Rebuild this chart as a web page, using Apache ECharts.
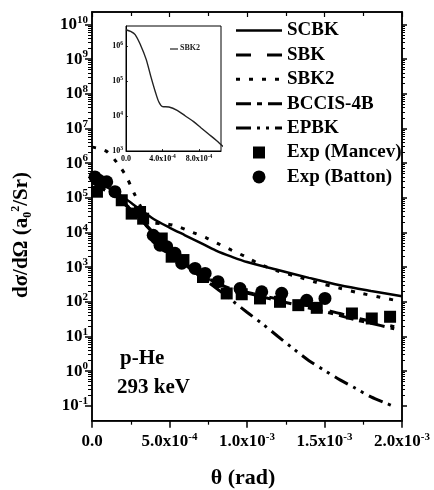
<!DOCTYPE html>
<html>
<head>
<meta charset="utf-8">
<script src="https://cdn.jsdelivr.net/npm/echarts@6/dist/echarts.min.js"></script>
<style>
  html, body { margin: 0; padding: 0; background: #fff; }
  #chart { width: 434px; height: 490px; }
</style>
</head>
<body>
<div id="chart"></div>
<script>
// p-He electron capture at 293 keV: differential cross section dσ/dΩ (a0²/Sr) vs θ (rad)
const FONT = 'Liberation Serif';

// Theory curves
const scbkTheta  = [0, 1e-4, 2e-4, 3e-4, 4e-4, 5e-4, 6e-4, 7e-4, 8e-4, 9e-4, 1.0e-3, 1.2e-3, 1.4e-3, 1.6e-3, 1.8e-3, 2.0e-3];
const scbkValue  = [3.5e5, 2.0e5, 1.05e5, 5.0e4, 2.4e4, 1.38e4, 8.3e3, 5.0e3, 3.0e3, 2.0e3, 1.4e3, 830, 490, 300, 205, 145];

const sbkTheta   = [0, 1e-4, 2e-4, 3e-4, 4e-4, 5e-4, 6e-4, 7e-4, 8e-4, 9e-4, 1.0e-3, 1.1e-3, 1.2e-3, 1.3e-3, 1.4e-3, 1.5e-3, 1.6e-3, 1.7e-3, 1.8e-3, 1.95e-3];
const sbkValue   = [3.2e5, 1.65e5, 7.6e4, 2.8e4, 9.5e3, 3.3e3, 1.3e3, 630, 360, 250, 190, 150, 120, 95, 76, 59, 46, 35, 27.5, 19];

const sbk2Theta  = [0, 0.5e-4, 1.0e-4, 1.6e-4, 2.2e-4, 2.7e-4, 3.2e-4, 3.6e-4, 4.0e-4, 4.7e-4, 5.6e-4, 6.5e-4, 7.4e-4, 8.2e-4, 9.0e-4, 9.9e-4, 1.07e-3, 1.19e-3, 1.34e-3, 1.44e-3, 1.60e-3, 1.73e-3, 1.86e-3, 1.95e-3];
const sbk2Value  = [2.9e6, 2.6e6, 2.1e6, 1.05e6, 4.2e5, 1.4e5, 5.0e4, 2.5e4, 1.85e4, 1.8e4, 1.45e4, 1.0e4, 6.9e3, 4.6e3, 3.1e3, 2.0e3, 1.3e3, 790, 510, 370, 245, 178, 135, 112];

const bccisTheta = [0, 1e-4, 2e-4, 3e-4, 4e-4, 5e-4, 6e-4, 7e-4, 8e-4, 9e-4, 1.0e-3, 1.1e-3, 1.2e-3, 1.3e-3, 1.4e-3, 1.5e-3, 1.6e-3, 1.7e-3, 1.8e-3, 1.95e-3];
const bccisValue = [2.8e5, 1.5e5, 7.1e4, 2.8e4, 8.9e3, 3.2e3, 1.26e3, 600, 350, 235, 178, 138, 107, 85, 66, 52, 40, 30, 24, 16.6];

const epbkTheta  = [0, 1e-4, 2e-4, 3e-4, 4e-4, 5e-4, 6e-4, 7e-4, 8e-4, 9e-4, 1.0e-3, 1.1e-3, 1.2e-3, 1.3e-3, 1.4e-3, 1.5e-3, 1.6e-3, 1.7e-3, 1.8e-3, 1.9e-3, 1.95e-3];
const epbkValue  = [2.8e5, 1.5e5, 7.1e4, 2.8e4, 8.9e3, 3.2e3, 1.2e3, 525, 250, 112, 50, 23, 10, 4.4, 2.0, 1.05, 0.56, 0.32, 0.18, 0.117, 0.095];

// Measurements
const mancevTheta = [3.2e-5, 1.92e-4, 2.56e-4, 3.1e-4, 3.3e-4, 4.5e-4, 5.14e-4, 5.9e-4, 7.16e-4, 8.69e-4, 9.66e-4, 1.084e-3, 1.213e-3, 1.331e-3, 1.45e-3, 1.677e-3, 1.805e-3, 1.923e-3];
const mancevValue = [1.5e5, 8.5e4, 3.5e4, 3.9e4, 2.5e4, 6.7e3, 2.0e3, 1.6e3, 520, 174, 165, 125, 100, 80, 67, 46, 33, 37];

const battonTheta = [1.9e-5, 4.5e-5, 9.5e-5, 1.48e-4, 3.95e-4, 4.17e-4, 4.39e-4, 4.82e-4, 5.35e-4, 5.79e-4, 6.65e-4, 7.3e-4, 8.13e-4, 9.55e-4, 1.095e-3, 1.224e-3, 1.385e-3, 1.503e-3];
const battonValue = [4.0e5, 3.2e5, 2.9e5, 1.5e5, 8.3e3, 6.7e3, 4.3e3, 3.9e3, 2.5e3, 1.3e3, 920, 660, 380, 240, 195, 175, 110, 125];

// Legend entries and their line dash patterns
const legendNames = ['SCBK', 'SBK', 'SBK2', 'BCCIS-4B', 'EPBK', 'Exp (Mancev)', 'Exp (Batton)'];
const legendDash = [null, [15, 16], [4, 9], [15, 6, 5, 6], [15, 6, 3, 6, 3, 6], null, null];
const legendMarker = [null, null, null, null, null, 'rect', 'circle'];

// Axis ranges and ticks
const xTickStep = 5e-4;
const xRange = [0, 2e-3];
const yRange = [0.03715, 2.29e10];      // visible extent of the main plot
const yDecades = [0.1, 1e10];           // labelled decades 10^-1 … 10^10
const insetXTickStep = 4e-4;
const insetXRange = [0, 1.04e-3];
const insetYRange = [1e3, 3.7e6];

const zip = (xs, ys) => xs.map((x, i) => [x, ys[i]]);

function powLabel(v) {
  const e = Math.log10(v);
  const r = Math.round(e);
  if (Math.abs(e - r) > 1e-6) return '';
  return '{b|10}{s|' + r + '}';
}
function sciLabel(v) {
  if (Math.abs(v) < 1e-12) return '{b|0.0}';
  const e = Math.floor(Math.log10(v) + 1e-9);
  const m = v / Math.pow(10, e);
  return '{b|' + m.toFixed(1) + 'x10}{s|' + e + '}';
}

const bigRich = {
  b: { fontFamily: FONT, fontWeight: 'bold', fontSize: 17, color: '#000', lineHeight: 20 },
  s: { fontFamily: FONT, fontWeight: 'bold', fontSize: 11, color: '#000', verticalAlign: 'top', lineHeight: 11 }
};
const smallRich = {
  b: { fontFamily: FONT, fontWeight: 'bold', fontSize: 8, color: '#000', lineHeight: 10 },
  s: { fontFamily: FONT, fontWeight: 'bold', fontSize: 5.5, color: '#000', verticalAlign: 'top', lineHeight: 6 }
};

const black = '#000';
const axisLine = { show: true, onZero: false, lineStyle: { color: black, width: 1.5 } };

// Main plot box
const plot = { left: 92, top: 12, width: 310, height: 408.7 };
// Sub-box spanning whole decades, so the log tick axes land on powers of ten
const pxPerDecade = plot.height / (Math.log10(yRange[1]) - Math.log10(yRange[0]));
const decadeBox = {
  left: plot.left, width: plot.width,
  top: plot.top + (Math.log10(yRange[1]) - Math.log10(yDecades[1])) * pxPerDecade,
  height: (Math.log10(yDecades[1]) - Math.log10(yDecades[0])) * pxPerDecade
};

const lineSeries = (name, xs, ys, type, width) => ({
  name, type: 'line', xAxisIndex: 0, yAxisIndex: 0,
  data: zip(xs, ys), showSymbol: false, symbol: 'none', smooth: 0.3,
  lineStyle: { color: black, width, type, cap: 'butt' },
  itemStyle: { color: black }, z: 3
});

// Legend drawn as graphic elements: sample line / marker + label per row
const legendX = 236, legendTop = 30.5, legendStep = 24.4;
const legendGraphics = [];
legendNames.forEach((name, i) => {
  const y = legendTop + i * legendStep;
  if (legendMarker[i] === 'rect') {
    legendGraphics.push({ type: 'rect', z: 100, shape: { x: 253, y: y - 6, width: 12, height: 12 }, style: { fill: black } });
  } else if (legendMarker[i] === 'circle') {
    legendGraphics.push({ type: 'circle', z: 100, shape: { cx: 259, cy: y, r: 6.5 }, style: { fill: black } });
  } else {
    legendGraphics.push({
      type: 'line', z: 100, shape: { x1: legendX, y1: y, x2: legendX + 46, y2: y },
      style: { stroke: black, lineWidth: i === 0 ? 2.5 : 3, lineDash: legendDash[i] || null }
    });
  }
  legendGraphics.push({
    type: 'text', z: 100, x: legendX + 51, y: y,
    style: { text: name, font: 'bold 19px "Liberation Serif"', fill: black, align: 'left', verticalAlign: 'middle' }
  });
});

const chart = echarts.init(document.getElementById('chart'), null, { renderer: 'canvas' });

const mainY = (position) => ({
  gridIndex: 0, type: 'log', logBase: 10, position, min: yRange[0], max: yRange[1],
  axisLine, splitLine: { show: false }, axisTick: { show: false }, axisLabel: { show: false }
});
const decadeY = (position, tickLen, minorLen, showLabel) => ({
  gridIndex: 2, type: 'log', logBase: 10, position, min: yDecades[0], max: yDecades[1], interval: 1,
  axisLine: { show: false }, splitLine: { show: false },
  axisTick: { show: true, inside: false, length: tickLen, interval: 0, lineStyle: { color: black, width: 1.5 } },
  minorTick: { show: true, splitNumber: 9, length: minorLen, lineStyle: { color: black, width: 1 } },
  axisLabel: showLabel
    ? { margin: 4, interval: 0, hideOverlap: false, formatter: powLabel, rich: bigRich }
    : { show: false }
});

chart.setOption({
  animation: false,
  backgroundColor: '#fff',
  grid: [
    Object.assign({ show: true, borderColor: black, borderWidth: 1.5, backgroundColor: 'transparent' }, plot),
    { left: 126, top: 26, width: 95, height: 125, show: true, borderColor: black, borderWidth: 1, backgroundColor: '#fff', z: 5 },
    Object.assign({ show: false }, decadeBox)
  ],
  xAxis: [
    {
      gridIndex: 0, type: 'value', position: 'bottom', min: xRange[0], max: xRange[1], interval: xTickStep,
      axisLine, splitLine: { show: false },
      axisTick: { show: true, inside: false, length: 7, lineStyle: { color: black, width: 1.5 } },
      minorTick: { show: true, splitNumber: 2, length: 4, lineStyle: { color: black, width: 1.2 } },
      axisLabel: { margin: 11, formatter: sciLabel, rich: bigRich }
    },
    {
      gridIndex: 0, type: 'value', position: 'top', min: xRange[0], max: xRange[1], interval: xTickStep,
      axisLine, splitLine: { show: false },
      axisTick: { show: true, inside: true, length: 5, lineStyle: { color: black, width: 1.2 } },
      minorTick: { show: true, splitNumber: 2, length: 4, lineStyle: { color: black, width: 1.2 } },
      axisLabel: { show: false }
    },
    {
      gridIndex: 1, type: 'value', position: 'bottom', min: insetXRange[0], max: insetXRange[1], interval: insetXTickStep,
      axisLine: { show: true, onZero: false, lineStyle: { color: black, width: 1 } }, splitLine: { show: false },
      axisTick: { show: true, inside: true, length: 2, lineStyle: { color: black, width: 0.8 } },
      axisLabel: { margin: 3, formatter: sciLabel, rich: smallRich, showMaxLabel: false }, z: 6
    },
    { gridIndex: 2, type: 'value', min: 0, max: 1, show: false }
  ],
  yAxis: [
    mainY('left'),
    mainY('right'),
    {
      gridIndex: 1, type: 'log', logBase: 10, position: 'left', min: insetYRange[0], max: insetYRange[1], interval: 1,
      axisLine: { show: true, onZero: false, lineStyle: { color: black, width: 1 } }, splitLine: { show: false },
      axisTick: { show: true, inside: true, length: 2, interval: 0, lineStyle: { color: black, width: 0.8 } },
      axisLabel: { margin: 3, interval: 0, formatter: powLabel, rich: smallRich, showMaxLabel: false }, z: 6
    },
    decadeY('left', 7, 4, true),
    decadeY('right', 5, 3, false)
  ],
  series: [
    lineSeries('SCBK', scbkTheta, scbkValue, 'solid', 2.5),
    lineSeries('SBK', sbkTheta, sbkValue, legendDash[1], 3),
    lineSeries('SBK2', sbk2Theta, sbk2Value, legendDash[2], 3),
    lineSeries('BCCIS-4B', bccisTheta, bccisValue, legendDash[3], 3),
    lineSeries('EPBK', epbkTheta, epbkValue, legendDash[4], 3),
    {
      name: 'Exp (Mancev)', type: 'scatter', xAxisIndex: 0, yAxisIndex: 0,
      data: zip(mancevTheta, mancevValue), symbol: 'rect', symbolSize: 12,
      itemStyle: { color: black, opacity: 1 }, z: 2
    },
    {
      name: 'Exp (Batton)', type: 'scatter', xAxisIndex: 0, yAxisIndex: 0,
      data: zip(battonTheta, battonValue), symbol: 'circle', symbolSize: 13,
      itemStyle: { color: black, opacity: 1 }, z: 2
    },
    {
      name: 'SBK2 (inset)', type: 'line', xAxisIndex: 2, yAxisIndex: 2,
      data: zip(sbk2Theta, sbk2Value), showSymbol: false, symbol: 'none', smooth: 0.3, clip: true,
      lineStyle: { color: '#222', width: 1.4 }, z: 7
    }
  ],
  graphic: legendGraphics.concat([
    { type: 'line', z: 100, shape: { x1: 170, y1: 49, x2: 178, y2: 49 }, style: { stroke: '#222', lineWidth: 1.2 } },
    { type: 'text', z: 100, left: 180, top: 44, style: { text: 'SBK2', font: 'bold 8px "Liberation Serif"', fill: '#222' } },
    { type: 'text', z: 100, left: 120, top: 348, style: { text: 'p-He', font: 'bold 21px "Liberation Serif"', fill: black } },
    { type: 'text', z: 100, left: 117, top: 377, style: { text: '293 keV', font: 'bold 21px "Liberation Serif"', fill: black } },
    { type: 'text', z: 100, x: 243, y: 478, style: { text: 'θ (rad)', font: 'bold 22px "Liberation Serif"', fill: black, align: 'center', verticalAlign: 'middle' } },
    {
      type: 'text', z: 100, x: 22, y: 235, rotation: Math.PI / 2,
      style: {
        text: '{t|dσ/dΩ (a}{sub|0}{sup|2}{t|/Sr)}', align: 'center', verticalAlign: 'middle',
        rich: {
          t: { font: 'bold 21px "Liberation Serif"', fill: black, lineHeight: 24 },
          sub: { font: 'bold 12px "Liberation Serif"', fill: black, verticalAlign: 'bottom', lineHeight: 12 },
          sup: { font: 'bold 12px "Liberation Serif"', fill: black, verticalAlign: 'top', lineHeight: 12 }
        }
      }
    }
  ])
});
</script>
</body>
</html>
